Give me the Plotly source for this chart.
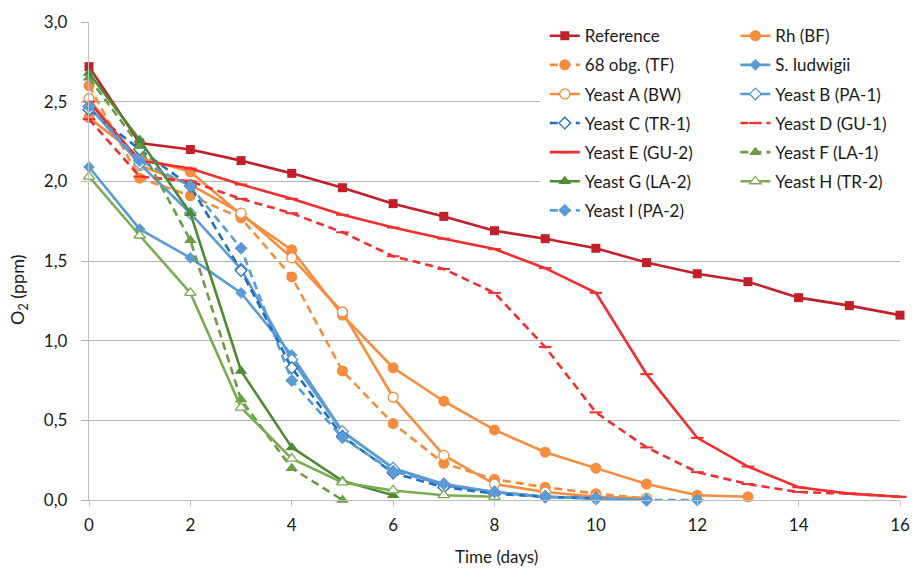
import plotly.graph_objects as go

days = list(range(17))

reference = [2.72, 2.24, 2.20, 2.13, 2.05, 1.96, 1.86, 1.78, 1.69, 1.64, 1.58, 1.49, 1.42, 1.37, 1.27, 1.22, 1.16]
rh_bf = [2.40, 2.15, 2.06, 1.79, 1.57, 1.16, 0.83, 0.62, 0.44, 0.30, 0.20, 0.10, 0.03, 0.02]
obg68_tf = [2.60, 2.02, 1.91, 1.77, 1.40, 0.81, 0.48, 0.23, 0.13, 0.08, 0.04, 0.01]
s_ludwigii = [2.09, 1.70, 1.52, 1.30, 0.91, 0.43, 0.20, 0.09, 0.05, 0.02, 0.01, 0.00]
yeast_a = [2.52, 2.10, 1.98, 1.80, 1.52, 1.18, 0.645, 0.28, 0.10, 0.05, 0.02, 0.01]
yeast_b = [2.47, 2.11, 1.80, 1.45, 0.88, 0.43, 0.20, 0.10, 0.05, 0.02, 0.01, 0.00]
yeast_c = [2.45, 2.20, 1.97, 1.44, 0.83, 0.40, 0.17, 0.08, 0.04, 0.02, 0.01]
yeast_d = [2.39, 2.03, 2.00, 1.89, 1.80, 1.68, 1.53, 1.45, 1.30, 0.96, 0.55, 0.33, 0.175, 0.10, 0.05, 0.04, 0.02]
yeast_e = [2.50, 2.13, 2.08, 1.98, 1.89, 1.79, 1.71, 1.64, 1.575, 1.455, 1.30, 0.79, 0.39, 0.21, 0.08, 0.04, 0.02]
yeast_f = [2.65, 2.22, 1.63, 0.63, 0.20, 0.00]
yeast_g = [2.68, 2.26, 1.80, 0.81, 0.33, 0.12, 0.03]
yeast_h = [2.03, 1.66, 1.30, 0.58, 0.26, 0.11, 0.06, 0.03, 0.02]
yeast_i = [2.47, 2.13, 1.97, 1.58, 0.75, 0.39, 0.18, 0.10, 0.05, 0.02, 0.01, 0.00, 0.00]

x_title = "Time (days)"
y_title = "O<sub>2</sub> (ppm)"

DARKRED = "#c0202a"
RED = "#ef2f2f"
ORANGE = "#f68c3e"
BLUE = "#5b9bd5"
DBLUE = "#1f6fc0"
DGREEN = "#4e8a34"
GREEN = "#6a9c45"
LGREEN = "#7aab52"

FONT = "Lato, 'Open Sans', sans-serif"
DASH = "8px,5px"

# (name, values, color, dash, symbol, filled, size, legend)
series = [
    ("Reference", reference, DARKRED, "solid", "square", True, 9, "legend"),
    ("Rh (BF)", rh_bf, ORANGE, "solid", "circle", True, 11, "legend2"),
    ("68 obg. (TF)", obg68_tf, ORANGE, DASH, "circle", True, 11, "legend"),
    ("S. ludwigii", s_ludwigii, BLUE, "solid", "diamond", True, 9, "legend2"),
    ("Yeast A (BW)", yeast_a, ORANGE, "solid", "circle", False, 10, "legend"),
    ("Yeast B (PA-1)", yeast_b, BLUE, "solid", "diamond", False, 9, "legend2"),
    ("Yeast C (TR-1)", yeast_c, DBLUE, DASH, "diamond", False, 9, "legend"),
    ("Yeast D (GU-1)", yeast_d, RED, DASH, "line-ew", True, 9, "legend2"),
    ("Yeast E (GU-2)", yeast_e, RED, "solid", "line-ew", True, 9, "legend"),
    ("Yeast F (LA-1)", yeast_f, GREEN, DASH, "triangle-up", True, 11, "legend2"),
    ("Yeast G (LA-2)", yeast_g, DGREEN, "solid", "triangle-up", True, 11, "legend"),
    ("Yeast H (TR-2)", yeast_h, LGREEN, "solid", "triangle-up", False, 10, "legend2"),
    ("Yeast I (PA-2)", yeast_i, BLUE, DASH, "diamond", True, 10, "legend"),
]

fig = go.Figure()
for i, (name, vals, color, dash, symbol, filled, size, leg) in enumerate(series):
    if symbol == "line-ew":
        marker = dict(symbol=symbol, size=size, line=dict(color=color, width=2), color=color)
    elif filled:
        marker = dict(symbol=symbol, size=size, color=color, line=dict(color=color, width=0))
    else:
        marker = dict(symbol=symbol, size=size, color="white", line=dict(color=color, width=1.3))
    fig.add_trace(go.Scatter(
        x=days[:len(vals)], y=vals, name=name, mode="lines+markers",
        line=dict(color=color, width=2.6, dash=dash),
        marker=marker, legend=leg, legendgroup=name, cliponaxis=False,
    ))

# white area behind the legend (hides gridlines like the original)
fig.add_shape(type="rect", xref="paper", yref="paper",
              x0=0.556, x1=1.02, y0=0.57, y1=1.02,
              fillcolor="white", line=dict(width=0), layer="above")

legend_common = dict(
    font=dict(family=FONT, size=17, color="#1a1a1a"),
    bgcolor="rgba(0,0,0,0)", orientation="v",
    tracegroupgap=4, xanchor="left", yanchor="top",
    itemwidth=30,
)

fig.add_annotation(text=y_title, xref="paper", yref="paper",
                   x=(18 - 89) / 811, y=(500 - 290) / 478, textangle=-90,
                   showarrow=False, xanchor="center", yanchor="middle",
                   font=dict(family=FONT, size=18, color="#1a1a1a"))
fig.add_annotation(text=x_title, xref="paper", yref="paper",
                   x=(496 - 89) / 811, y=(500 - 556) / 478,
                   showarrow=False, xanchor="center", yanchor="middle",
                   font=dict(family=FONT, size=17, color="#1a1a1a"))

fig.update_layout(
    width=912, height=568,
    margin=dict(l=89, r=12, t=22, b=68, autoexpand=False),
    paper_bgcolor="white", plot_bgcolor="white",
    separators=",.",
    font=dict(family=FONT, size=17, color="#1a1a1a"),
    legend=dict(x=0.562, y=1.008, **legend_common),
    legend2=dict(x=0.797, y=1.008, **legend_common),
    xaxis=dict(
        range=[0, 16], tickvals=list(range(0, 17, 2)),
        showgrid=False, zeroline=False, automargin=False,
        showline=True, linecolor="#bfbfbf", linewidth=1.3,
        ticks="outside", ticklen=5, tickcolor="#bfbfbf",
        ticklabelstandoff=4,
        tickfont=dict(family=FONT, size=17),
    ),
    yaxis=dict(
        range=[0, 3], tickvals=[0, 0.5, 1, 1.5, 2, 2.5, 3], tickformat=".1f",
        showgrid=True, gridcolor="#b3b3b3", gridwidth=1,
        zeroline=False, automargin=False,
        showline=True, linecolor="#bfbfbf", linewidth=1.3,
        ticks="outside", ticklen=7, tickcolor="#b3b3b3",
        ticklabelstandoff=10,
        tickfont=dict(family=FONT, size=17),
    ),
)

fig.write_html("out.html", config={"displayModeBar": False},
               post_script="document.body.style.margin='0';document.body.style.overflow='hidden';")
